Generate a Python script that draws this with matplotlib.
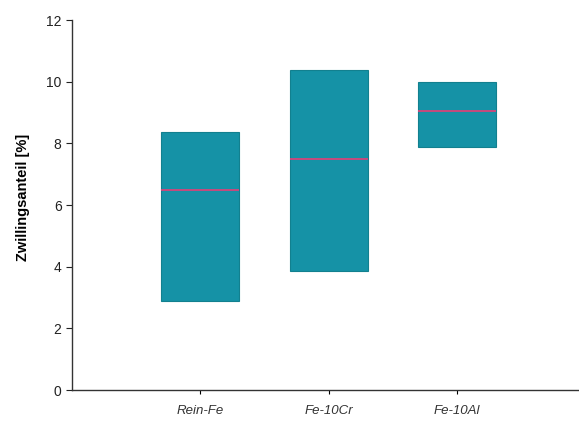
import matplotlib
matplotlib.use("Agg")
import matplotlib.pyplot as plt

plt.rcParams["font.family"] = ["Liberation Sans", "DejaVu Sans"]

categories = ["Rein-Fe", "Fe-10Cr", "Fe-10Al"]
lower = [2.9, 3.87, 7.87]
upper = [8.38, 10.38, 9.98]
median = [6.5, 7.49, 9.04]

fig = plt.figure(figsize=(5.79, 4.23), dpi=100)
ax = fig.add_axes([0.1244, 0.078, 0.8756, 0.8747])

positions = [1, 2, 3]
width = 0.607
heights = [u - l for u, l in zip(upper, lower)]
ax.bar(positions, heights, bottom=lower, width=width, color="#1592a6",
       edgecolor="#12808f", linewidth=0.8, zorder=2)
for x, m in zip(positions, median):
    ax.hlines(m, x - width / 2, x + width / 2, color="#d4457a", linewidth=1.3, zorder=3)

ax.set_xlim(0, 3.95)
ax.set_ylim(0, 12)
ax.set_yticks(range(0, 13, 2))
ax.set_xticks(positions)
ax.set_xticklabels(categories, fontstyle="italic", color="#333333", fontsize=9.5)
ax.tick_params(axis="y", labelsize=10, length=4, width=0.8, colors="#222222")
ax.tick_params(axis="x", length=3, width=0.8, pad=8)
ax.spines["top"].set_visible(False)
ax.spines["right"].set_visible(False)
for s in ("left", "bottom"):
    ax.spines[s].set_linewidth(1.0)
    ax.spines[s].set_color("#333333")
ax.set_ylabel("Zwillingsanteil [%]", fontweight="bold", fontsize=10.5)
ax.yaxis.set_label_coords(-0.083, 0.52)

fig.savefig("out.png", dpi=100)
